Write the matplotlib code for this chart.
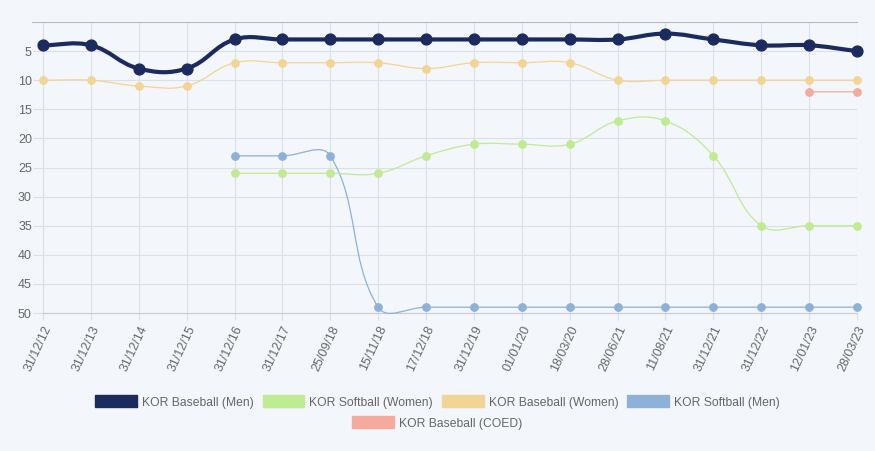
import numpy as np
import matplotlib.pyplot as plt
from matplotlib.path import Path
from matplotlib.patches import PathPatch, Patch

dates = ["31/12/12", "31/12/13", "31/12/14", "31/12/15", "31/12/16", "31/12/17",
         "25/09/18", "15/11/18", "17/12/18", "31/12/19", "01/01/20", "18/03/20",
         "28/06/21", "11/08/21", "31/12/21", "31/12/22", "12/01/23", "28/03/23"]

N = None
baseball_men = [4, 4, 8, 8, 3, 3, 3, 3, 3, 3, 3, 3, 3, 2, 3, 4, 4, 5]
softball_women = [N, N, N, N, 26, 26, 26, 26, 23, 21, 21, 21, 17, 17, 23, 35, 35, 35]
baseball_women = [10, 10, 11, 11, 7, 7, 7, 7, 8, 7, 7, 7, 10, 10, 10, 10, 10, 10]
softball_men = [N, N, N, N, 23, 23, 23, 49, 49, 49, 49, 49, 49, 49, 49, 49, 49, 49]
baseball_coed = [N] * 16 + [12, 12]

series = [
    ("KOR Baseball (Men)", baseball_men, "#1c2b5e", 3.0, 7.8),
    ("KOR Softball (Women)", softball_women, "#bfeb93", 0.9, 5.3),
    ("KOR Baseball (Women)", baseball_women, "#f2d594", 0.9, 5.3),
    ("KOR Softball (Men)", softball_men, "#8eb1d8", 0.9, 5.3),
    ("KOR Baseball (COED)", baseball_coed, "#f5aa9e", 0.9, 5.3),
]

BG = "#f3f6fa"
GRID = "#dcdfe4"
TXT = "#666666"


def spline_path(ax, xs, ys, tension=0.4):
    # Chart.js style bezier control points, computed in pixel space
    pts = ax.transData.transform(np.column_stack([xs, ys]))
    n = len(pts)
    verts = [pts[0]]
    codes = [Path.MOVETO]
    cps = []
    for i in range(n):
        prev = pts[max(i - 1, 0)]
        cur = pts[i]
        nxt = pts[min(i + 1, n - 1)]
        d01 = np.hypot(*(cur - prev))
        d12 = np.hypot(*(nxt - cur))
        tot = d01 + d12
        s01 = d01 / tot if tot else 0
        s12 = d12 / tot if tot else 0
        cps.append((cur - tension * s01 * (nxt - prev), cur + tension * s12 * (nxt - prev)))
    for i in range(1, n):
        verts += [cps[i - 1][1], cps[i][0], pts[i]]
        codes += [Path.CURVE4] * 3
    verts = ax.transData.inverted().transform(np.array(verts))
    return Path(verts, codes)


fig = plt.figure(figsize=(8.75, 4.51), dpi=100)
fig.patch.set_facecolor(BG)
plt.rcParams['font.family'] = ['Liberation Sans', 'DejaVu Sans']
ax = fig.add_axes([43 / 875, 1 - 313 / 451, 814 / 875, 291 / 451])
ax.set_facecolor(BG)

x = np.arange(len(dates))
ax.set_xlim(0, len(dates) - 1)
ax.set_ylim(50, 0)

ax.set_yticks([5, 10, 15, 20, 25, 30, 35, 40, 45, 50])
ax.set_xticks(x)
ax.set_xticklabels(dates, rotation=65, ha="right", va="top", rotation_mode="anchor")
ax.grid(True, color=GRID, linewidth=0.8)
ax.set_axisbelow(True)
ax.tick_params(axis="y", length=7.5, width=0.8, color=GRID, pad=0.5, labelsize=9, labelcolor=TXT)
ax.tick_params(axis="x", length=5, width=0.8, color=GRID, pad=3, labelsize=9, labelcolor=TXT)
ax.spines["right"].set_visible(False)
ax.spines["top"].set_color("#b8bcc2")
ax.spines["left"].set_color(GRID)
ax.spines["bottom"].set_color("#c8ccd2")
for s in ax.spines.values():
    s.set_linewidth(0.8)
ax.plot([-0.23, 0], [0, 0], color="#b8bcc2", lw=0.8, clip_on=False)

fig.canvas.draw()

for z, (name, vals, color, lw, ms) in enumerate(reversed(series)):
    xs = [i for i, v in enumerate(vals) if v is not None]
    ys = [v for v in vals if v is not None]
    path = spline_path(ax, xs, ys)
    ax.add_patch(PathPatch(path, facecolor="none", edgecolor=color, lw=lw,
                           clip_on=False, zorder=3 + z))
    ax.plot(xs, ys, "o", color=color, ms=ms, mec=color, clip_on=False, zorder=3 + z)

handles = [Patch(facecolor=c, edgecolor=c, label=n) for n, _, c, _, _ in series]

leg_kw = dict(frameon=False, fontsize=8.7, labelcolor=TXT, handlelength=3.45,
              handleheight=1.15, handletextpad=0.42, columnspacing=0.75)
fig.legend(handles=handles[:4], loc="center", bbox_to_anchor=(0.5, 1 - 402 / 451),
           ncol=4, **leg_kw)
fig.legend(handles=handles[4:], loc="center", bbox_to_anchor=(0.5, 1 - 423 / 451),
           ncol=1, **leg_kw)

fig.savefig("out.png", dpi=100, facecolor=BG)
